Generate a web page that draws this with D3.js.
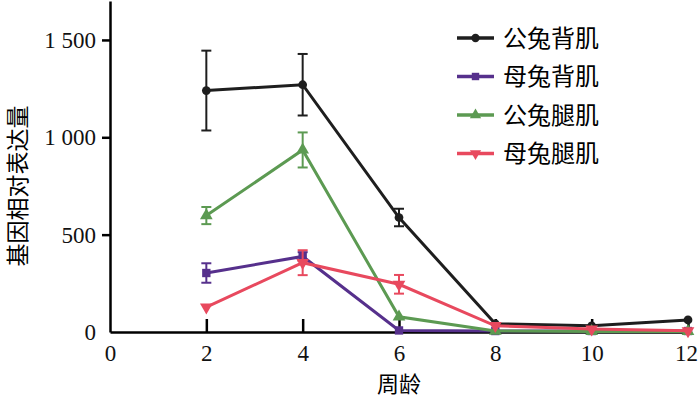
<!DOCTYPE html>
<html>
<head>
<meta charset="utf-8">
<script src="https://cdn.jsdelivr.net/npm/d3@7"></script>
<style>
  body { margin: 0; background: #fff; }
  svg { display: block; }
</style>
</head>
<body>
<svg id="chart" width="700" height="399"></svg>
<script>
// weeks of age
const weeks = [2, 4, 6, 8, 10, 12];
const xTicks = [0, 2, 4, 6, 8, 10, 12];
const yTicks = [0, 500, 1000, 1500];

const seriesNames = ['公兔背肌', '母兔背肌', '公兔腿肌', '母兔腿肌'];
const seriesColors = ['#1e1e1e', '#56308c', '#5c9a52', '#e8495e'];
const seriesSymbols = [d3.symbolCircle, d3.symbolSquare, d3.symbolTriangle, d3.symbolTriangle];

const maleBack = [1240, 1270, 588, 42, 32, 62];
const femaleBack = [303, 388, 8, 5, 5, 5];
const maleLeg = [598, 935, 78, 5, 3, 3];
const femaleLeg = [128, 356, 245, 32, 15, 6];

const maleBackErr = [205, 158, 45, 0, 0, 0];
const femaleBackErr = [50, 22, 0, 0, 0, 0];
const maleLegErr = [44, 90, 0, 0, 0, 0];
const femaleLegErr = [0, 64, 48, 0, 0, 0];

const values = [maleBack, femaleBack, maleLeg, femaleLeg];
const errors = [maleBackErr, femaleBackErr, maleLegErr, femaleLegErr];

const margin = { top: 1, right: 12, bottom: 67, left: 110 };
const width = 700 - margin.left - margin.right;
const height = 399 - margin.top - margin.bottom;

const x = d3.scaleLinear().domain([0, 12]).range([0, width]);
const y = d3.scaleLinear().domain([0, 1700]).range([height, 0]);

const svg = d3.select('#chart');
const g = svg.append('g')
  .attr('transform', 'translate(' + margin.left + ',' + margin.top + ')');

const serif = '"Liberation Serif", "Times New Roman", serif';
const cjk = '"Noto Sans CJK SC", sans-serif';

// x axis, ticks pointing inward
const xAxis = g.append('g')
  .attr('transform', 'translate(0,' + height + ')')
  .call(d3.axisBottom(x).tickValues(xTicks).tickSize(-13).tickPadding(10).tickSizeOuter(0));
xAxis.select('.domain').attr('stroke', '#000').attr('stroke-width', 2.5);
xAxis.selectAll('.tick line').attr('stroke', '#000').attr('stroke-width', 2.5)
  .filter(d => d === 0).remove();
xAxis.selectAll('.tick text')
  .attr('y', 13)
  .attr('dy', '0.71em')
  .style('font-family', serif).style('font-size', '23px').attr('fill', '#111');
// keep the last label inside the picture
xAxis.selectAll('.tick text').filter(d => d === 12).attr('dx', '-2px');

// y axis
const yAxis = g.append('g')
  .call(d3.axisLeft(y).tickValues(yTicks).tickSize(8).tickPadding(6).tickSizeOuter(0)
    .tickFormat(d => d3.format(',')(d).replace(',', ' ')));
yAxis.select('.domain').attr('stroke', '#000').attr('stroke-width', 2.5);
yAxis.selectAll('.tick line').attr('stroke', '#000').attr('stroke-width', 2.5)
  .filter(d => d === 0).remove();
yAxis.selectAll('.tick text')
  .style('font-family', serif).style('font-size', '23px').attr('fill', '#111');

// axis titles
svg.append('text')
  .attr('x', margin.left + width / 2)
  .attr('y', 392)
  .attr('text-anchor', 'middle')
  .style('font-family', cjk).style('font-size', '22px')
  .text('周龄');

svg.append('text')
  .attr('transform', 'translate(26,' + (margin.top + y(750)) + ') rotate(-90)')
  .attr('text-anchor', 'middle')
  .style('font-family', cjk).style('font-size', '23px')
  .text('基因相对表达量');

const line = d3.line()
  .x((d, i) => x(weeks[i]))
  .y(d => y(d));

values.forEach(function (vals, s) {
  const color = seriesColors[s];
  const grp = g.append('g');

  // error bars
  vals.forEach(function (v, i) {
    const e = errors[s][i];
    if (!e) return;
    const cx = x(weeks[i]);
    grp.append('line')
      .attr('x1', cx).attr('x2', cx)
      .attr('y1', y(v - e)).attr('y2', y(v + e))
      .attr('stroke', color).attr('stroke-width', 2);
    [v - e, v + e].forEach(function (t) {
      grp.append('line')
        .attr('x1', cx - 5).attr('x2', cx + 5)
        .attr('y1', y(t)).attr('y2', y(t))
        .attr('stroke', color).attr('stroke-width', 2);
    });
  });

  grp.append('path')
    .datum(vals)
    .attr('d', line)
    .attr('fill', 'none')
    .attr('stroke', color)
    .attr('stroke-width', 3);

  const sym = d3.symbol().type(seriesSymbols[s]).size(s === 0 ? 60 : 70);
  grp.selectAll('path.mark')
    .data(vals)
    .enter().append('path')
    .attr('class', 'mark')
    .attr('d', sym)
    .attr('fill', color)
    .attr('transform', (d, i) => 'translate(' + x(weeks[i]) + ',' + y(d) + ')' + (s === 3 ? ' rotate(180)' : ''));
});

// legend
const legend = svg.append('g').attr('transform', 'translate(457,38)');
seriesNames.forEach(function (name, s) {
  const row = legend.append('g').attr('transform', 'translate(0,' + (s * 38.5) + ')');
  row.append('line')
    .attr('x1', 0).attr('x2', 37)
    .attr('stroke', seriesColors[s]).attr('stroke-width', 3.5);
  row.append('path')
    .attr('d', d3.symbol().type(seriesSymbols[s]).size(55))
    .attr('fill', seriesColors[s])
    .attr('transform', 'translate(18.5,0)' + (s === 3 ? ' rotate(180)' : ''));
  row.append('text')
    .attr('x', 46)
    .attr('dy', '0.36em')
    .style('font-family', cjk).style('font-size', '24px')
    .text(name);
});
</script>
</body>
</html>
